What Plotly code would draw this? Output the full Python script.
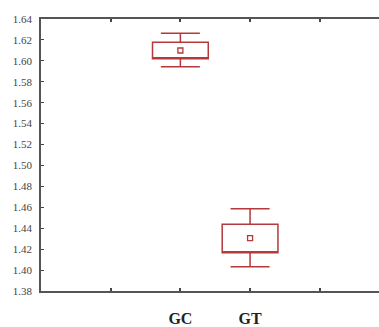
import plotly.graph_objects as go

# Data
categories = ["GC", "GT"]
positions = [2, 3]
upper_whisker = [1.6264, 1.4587]
q3 = [1.6177, 1.4437]
center = [1.6099, 1.4306]
q1 = [1.6021, 1.4166]
lower_whisker = [1.5944, 1.4031]

x_tickvals = [1, 2, 3, 4]
x_ticktext = ["", "GC", "GT", ""]
y_tickvals = [1.38, 1.40, 1.42, 1.44, 1.46, 1.48, 1.50, 1.52, 1.54, 1.56, 1.58, 1.60, 1.62, 1.64]

red = "#b3393b"
fig = go.Figure()
fig.add_trace(go.Box(
    x=positions, q1=q1, q3=q3, median=q1,
    lowerfence=lower_whisker, upperfence=upper_whisker,
    width=0.8, whiskerwidth=0.7,
    line=dict(color=red, width=1.5), fillcolor="rgba(0,0,0,0)",
    boxpoints=False, showlegend=False, hoverinfo="skip",
))
fig.add_trace(go.Scatter(
    x=positions, y=center, mode="markers",
    marker=dict(symbol="square-open", size=5, color=red, line=dict(width=1.3, color=red)),
    showlegend=False, hoverinfo="skip",
))

fig.update_layout(
    width=379, height=327,
    margin=dict(l=41, r=0, t=19, b=30),
    paper_bgcolor="white", plot_bgcolor="white",
    font=dict(family="Liberation Serif", color="#333"),
)
fig.update_xaxes(
    range=[0, 4.85], tickvals=x_tickvals, ticktext=x_ticktext,
    ticks="inside", ticklen=3, tickcolor="#444", tickwidth=1.5,
    showline=True, linecolor="#555", linewidth=1.5, mirror="ticks",
    showgrid=False, zeroline=False,
    tickfont=dict(family="Liberation Serif", size=16, color="#222", weight="bold"),
    ticklabelstandoff=12,
)
fig.update_yaxes(
    range=[1.38, 1.64], tickvals=y_tickvals, tickformat=".2f",
    ticks="inside", ticklen=3, tickcolor="#444", tickwidth=1.2,
    showline=True, linecolor="#555", linewidth=1.5,
    showgrid=False, zeroline=False,
    tickfont=dict(family="Liberation Serif", size=11, color="#444"),
    ticklabelstandoff=5,
)
fig.write_html("out.html")
